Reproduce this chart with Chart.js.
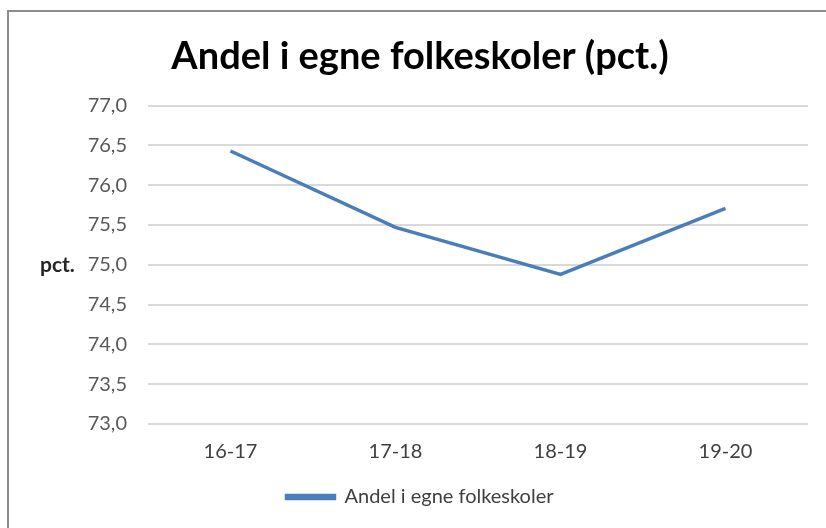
<!DOCTYPE html>
<html>
<head>
<meta charset="utf-8">
<script src="https://cdn.jsdelivr.net/npm/chart.js@4.4.0/dist/chart.umd.min.js"></script>
<style>
  html, body { margin: 0; padding: 0; background: #ffffff; }
  #wrap { position: relative; width: 826px; height: 528px; overflow: hidden; }
  #frame { position: absolute; left: 7px; top: 10px; width: 1000px; height: 800px;
           border-left: 2px solid #8c8c8c; border-top: 2px solid #8c8c8c; box-sizing: border-box; }
  #c { position: absolute; left: 0; top: 0; }
</style>
</head>
<body>
<div id="wrap">
  <div id="frame"></div>
  <canvas id="c" width="826" height="528"></canvas>
</div>
<script>
const categories = ['16-17', '17-18', '18-19', '19-20'];
const seriesName = 'Andel i egne folkeskoler';
const seriesValues = [76.43, 75.47, 74.88, 75.71];
const yTickValues = [73.0, 73.5, 74.0, 74.5, 75.0, 75.5, 76.0, 76.5, 77.0];
const titleText = 'Andel i egne folkeskoler (pct.)';
const yAxisLabel = 'pct.';

const FONT = 'Lato, "Open Sans", sans-serif';
const blue = '#4a7ebb';

const yLabelPlugin = {
  id: 'yLabel',
  afterDraw(chart) {
    const ctx = chart.ctx;
    const y = chart.scales.y.getPixelForValue(75.0);
    ctx.save();
    ctx.font = 'bold 21px ' + FONT;
    ctx.fillStyle = '#262626';
    ctx.textAlign = 'left';
    ctx.textBaseline = 'middle';
    ctx.fillText(yAxisLabel, 40, y);
    ctx.restore();
  }
};

new Chart(document.getElementById('c'), {
  type: 'line',
  data: {
    labels: categories,
    datasets: [{
      label: seriesName,
      data: seriesValues,
      borderColor: blue,
      backgroundColor: blue,
      borderWidth: 3.5,
      pointRadius: 0,
      pointHoverRadius: 0,
      tension: 0,
      fill: false
    }]
  },
  options: {
    responsive: false,
    devicePixelRatio: 1,
    animation: false,
    layout: { padding: { left: 32, right: 18, top: 0, bottom: 11 } },
    plugins: {
      title: {
        display: true,
        text: titleText,
        color: '#000000',
        font: { family: FONT, size: 38, weight: 'bold' },
        padding: { top: 34, bottom: 26 }
      },
      legend: {
        display: true,
        position: 'bottom',
        labels: {
          color: '#404040',
          font: { family: FONT, size: 20 },
          boxWidth: 48,
          boxHeight: 3,
          padding: 8
        }
      },
      tooltip: { enabled: false }
    },
    scales: {
      x: {
        offset: true,
        grid: { display: false, drawTicks: false },
        border: { display: false },
        ticks: { color: '#404040', font: { family: FONT, size: 20 }, padding: 16, maxRotation: 0 },
        afterFit(scale) { scale.height = 55; }
      },
      y: {
        min: 73,
        max: 77,
        grid: { color: '#d9d9d9', lineWidth: 2, drawTicks: false },
        border: { display: false },
        afterBuildTicks(scale) { scale.ticks = yTickValues.map(v => ({ value: v })); },
        ticks: {
          color: '#595959',
          font: { family: FONT, size: 20 },
          padding: 21,
          callback: (v) => Number(v).toFixed(1).replace('.', ',')
        },
        afterFit(scale) { scale.width = 116; }
      }
    }
  },
  plugins: [yLabelPlugin]
});
</script>
</body>
</html>
